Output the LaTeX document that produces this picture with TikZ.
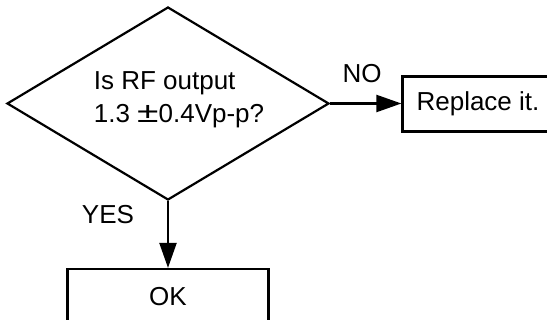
\documentclass[tikz,border=0pt]{standalone}
\usepackage{fontspec}
\setmainfont{Liberation Sans}
\usetikzlibrary{shapes.geometric,arrows.meta}

\begin{document}
\begin{tikzpicture}[x=1pt,y=-1pt,line width=2.2pt,>={Triangle[length=25pt,width=17pt]},font=\fontsize{26}{33}\selectfont,
  decision/.style={diamond,draw,minimum width=322pt,minimum height=193pt,inner sep=0pt},
  stepbox/.style={rectangle,draw,minimum height=55pt,inner sep=0pt}]
\useasboundingbox (0,0) rectangle (547,320);
\clip (0,0) rectangle (547,320);
\node[decision](check) at (168,103.5){};
\node[align=left,inner sep=0pt](ask) at (179,100){Is RF output\\1.3 \scalebox{1.5}[1.1]{±}0.4Vp-p?};
\node[stepbox,minimum width=151pt](replace) at (478,104){Replace it.};
\node[stepbox,minimum width=201pt](ok) at (168,296.5){OK};
\draw[->](check.east)--(check.east-|replace.west);
\draw[->](check.south)--(ok.north);
\node(no) at (362,73.5){NO};
\node(yes) at (108,214.5){YES};
\end{tikzpicture}
\end{document}
